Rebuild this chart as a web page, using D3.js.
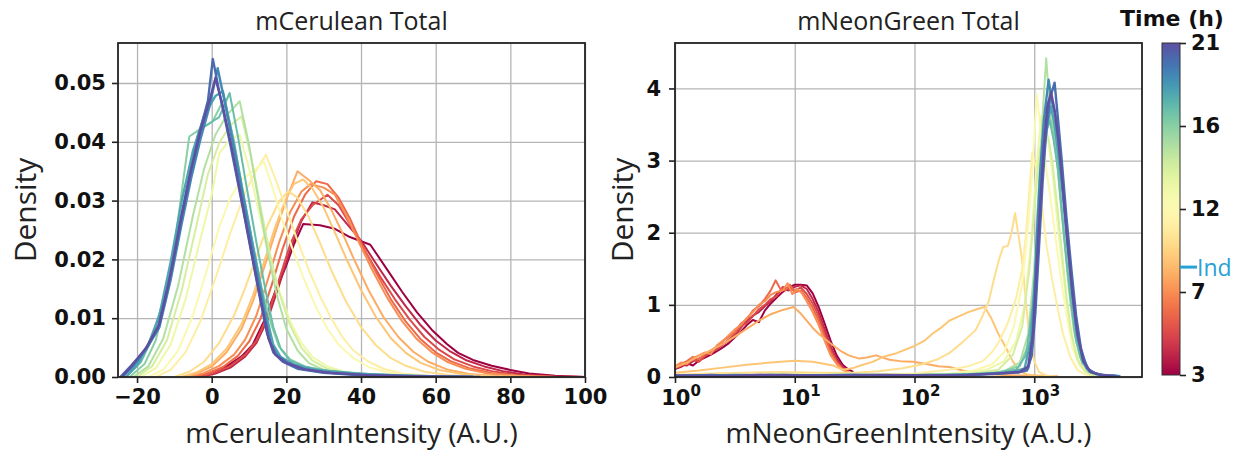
<!DOCTYPE html>
<html>
<head>
<meta charset="utf-8">
<script src="https://cdn.jsdelivr.net/npm/d3@7"></script>
<style>
  html, body { margin: 0; padding: 0; background: #ffffff; }
  svg { display: block; }
</style>
</head>
<body>
<svg id="chart" width="1245" height="452"></svg>
<script>
// ---------------------------------------------------------------
// Data
// ---------------------------------------------------------------
// Time points (hours) of each density curve
const hours = [3, 4, 5, 6, 7, 8, 9, 10, 11, 12, 13, 14, 15, 16, 17, 18, 19, 20, 21];
const timeTicks = [3, 7, 12, 16, 21];
const inductionTime = 8.5;

const ceruleanXTicks = [-20, 0, 20, 40, 60, 80, 100];
const ceruleanYTicks = [0, 0.01, 0.02, 0.03, 0.04, 0.05];
const neonXTicks = [1, 10, 100, 1000];
const neonXExponents = ["0", "1", "2", "3"];
const neonYTicks = [0, 1, 2, 3, 4];

// mCerulean intensity density, one curve per time point: [intensity, density]
const ceruleanCurves = [
  [[-4,0],[0,0.0008],[4,0.0018],[8,0.0035],[11,0.0055],[14,0.0095],[17,0.0145],[20,0.019],[22,0.0225],[24.5,0.026],[29,0.0258],[33,0.0252],[37,0.0238],[42.5,0.0225],[47.5,0.0178],[51,0.0145],[55,0.011],[59,0.008],[63,0.0056],[66,0.0041],[70,0.0029],[75,0.0019],[80,0.0012],[85,0.0006],[92,0.0002],[100,0]],
  [[-3,0],[1,0.0006],[5,0.0016],[9,0.0035],[12,0.0058],[15,0.0098],[18,0.0155],[21,0.0215],[24,0.0265],[27,0.0297],[30,0.0292],[33,0.0285],[36,0.0262],[40,0.0232],[44,0.0193],[48,0.0155],[52,0.012],[56,0.0088],[60,0.0062],[64,0.0043],[68,0.0029],[73,0.0018],[78,0.001],[84,0.0004],[92,0.0001],[100,0]],
  [[-3,0],[1,0.0008],[5,0.0019],[9,0.0038],[12,0.0062],[15,0.0105],[18,0.0165],[21,0.0225],[24,0.0268],[27,0.0292],[31,0.031],[34,0.0292],[37,0.026],[41,0.0215],[45,0.0172],[49,0.0133],[53,0.0098],[57,0.0068],[61,0.0046],[65,0.003],[70,0.0018],[75,0.001],[81,0.0004],[90,0.0001],[100,0]],
  [[-5,0],[-1,0.0006],[3,0.0017],[7,0.0036],[10,0.006],[13,0.0098],[16,0.0155],[19,0.0218],[22,0.0272],[25,0.031],[28,0.0333],[31,0.0328],[34,0.0305],[37,0.027],[40,0.0228],[44,0.0178],[48,0.0132],[52,0.0094],[56,0.0064],[60,0.0042],[64,0.0027],[69,0.0015],[75,0.0007],[82,0.0002],[92,0]],
  [[-6,0],[-2,0.0007],[2,0.0019],[6,0.0038],[9,0.0064],[12,0.0105],[15,0.0165],[18,0.0228],[21,0.028],[24,0.0315],[26.5,0.0328],[30,0.0322],[33,0.031],[36,0.0275],[39,0.0235],[43,0.0182],[47,0.0135],[51,0.0095],[55,0.0064],[59,0.0042],[63,0.0026],[68,0.0014],[74,0.0006],[82,0.0002],[92,0]],
  [[-8,0],[-4,0.0006],[0,0.0018],[4,0.0042],[8,0.0082],[11,0.0128],[14,0.0185],[17,0.0245],[20,0.0302],[23,0.035],[26,0.0335],[29,0.0318],[32,0.0285],[35,0.0245],[38,0.0202],[42,0.0148],[46,0.0102],[50,0.0068],[54,0.0043],[58,0.0026],[63,0.0013],[69,0.0005],[78,0.0001],[88,0]],
  [[-8,0],[-4,0.0008],[0,0.0022],[4,0.0048],[8,0.009],[11,0.0138],[14,0.0195],[17,0.0255],[20,0.0305],[22,0.0328],[24.5,0.0336],[27,0.032],[30,0.0288],[33,0.0246],[36,0.0202],[40,0.0148],[44,0.0102],[48,0.0066],[52,0.0041],[56,0.0024],[61,0.0012],[67,0.0005],[76,0.0001],[86,0]],
  [[-10,0],[-6,0.0009],[-2,0.0026],[2,0.0058],[6,0.0105],[9,0.0152],[12,0.0205],[15,0.0258],[18,0.0298],[20.5,0.0316],[23,0.0305],[26,0.0272],[29,0.0228],[32,0.0182],[36,0.0128],[40,0.0085],[44,0.0054],[48,0.0032],[52,0.0019],[57,0.0009],[64,0.0003],[74,0]],
  [[-15,0],[-11,0.0012],[-7,0.0042],[-3,0.0095],[1,0.0168],[5,0.0245],[9,0.0315],[12,0.0352],[14.5,0.0378],[17,0.0338],[20,0.0285],[23,0.0232],[26,0.0182],[29,0.0138],[32,0.01],[35,0.0068],[38,0.0045],[42,0.0026],[46,0.0014],[51,0.0006],[58,0.0002],[68,0]],
  [[-17,0],[-13,0.0012],[-9,0.0045],[-5,0.0105],[-1,0.0188],[2,0.0255],[5,0.0305],[8,0.0335],[11,0.035],[14,0.0366],[16.5,0.0318],[19,0.0265],[22,0.0212],[25,0.0162],[28,0.0118],[31,0.0082],[34,0.0055],[38,0.0032],[42,0.0017],[47,0.0008],[54,0.0002],[64,0]],
  [[-19,0],[-15,0.0015],[-11,0.0055],[-7,0.0132],[-3,0.0235],[0,0.031],[2,0.038],[5,0.0405],[7.5,0.0412],[10,0.0355],[12.5,0.0285],[15,0.0215],[18,0.0148],[21,0.0095],[24,0.0058],[27,0.0034],[31,0.0018],[36,0.0008],[43,0.0003],[52,0]],
  [[-20,0],[-16,0.0018],[-12,0.0062],[-8,0.0148],[-4,0.026],[-1,0.0345],[2,0.0398],[5,0.0428],[8,0.0443],[10.5,0.0375],[13,0.0292],[15.5,0.0212],[18,0.0145],[21,0.0088],[24,0.005],[27,0.0028],[31,0.0014],[37,0.0005],[46,0.0001],[56,0]],
  [[-21,0],[-17,0.0018],[-13,0.0065],[-9,0.0155],[-5,0.0275],[-2,0.0355],[1,0.0412],[4,0.0445],[7.5,0.0469],[10,0.0395],[12.5,0.0302],[15,0.0212],[17.5,0.0138],[20,0.0082],[23,0.0045],[26,0.0024],[30,0.0012],[36,0.0005],[45,0.0001],[56,0]],
  [[-22,0],[-18,0.0022],[-15,0.0062],[-12,0.014],[-9.5,0.0245],[-7.5,0.034],[-6,0.0409],[-3,0.0422],[0.2,0.0434],[3.4,0.0474],[6,0.04],[8.5,0.031],[11,0.0225],[13.5,0.0148],[16,0.0088],[18,0.0052],[21,0.003],[25,0.0018],[31,0.001],[40,0.0005],[52,0.0002],[66,0]],
  [[-23,0],[-19,0.0025],[-16,0.0065],[-13,0.013],[-10,0.0215],[-7,0.031],[-5,0.0375],[-3.4,0.042],[-0.5,0.0432],[2,0.0442],[4.8,0.0483],[7,0.041],[9.5,0.0318],[12,0.0228],[14.5,0.0145],[16.5,0.0085],[18.5,0.0048],[21,0.0028],[25,0.0017],[32,0.001],[42,0.0005],[55,0.0002],[70,0]],
  [[-23,0],[-20,0.002],[-17,0.0055],[-14,0.0105],[-11,0.0195],[-8,0.03],[-5,0.0385],[-2,0.0445],[1,0.0478],[3,0.0486],[6,0.0395],[9,0.0292],[12,0.0192],[14.5,0.0108],[16.5,0.0055],[18.5,0.0034],[22,0.0021],[28,0.0012],[38,0.0006],[52,0.0002],[70,0]],
  [[-24,0],[-21,0.0018],[-17.5,0.0048],[-14,0.0085],[-11,0.0165],[-8,0.0262],[-5.5,0.0338],[-3,0.0405],[-0.5,0.0462],[1.6,0.0525],[4,0.0452],[6.5,0.037],[9,0.0285],[11.5,0.0198],[14,0.0112],[15.8,0.0058],[17.5,0.0038],[20,0.0026],[24,0.0014],[30,0.0008],[40,0.0004],[55,0.0001],[70,0]],
  [[-24.5,0],[-21.5,0.002],[-18,0.0045],[-14.5,0.0082],[-11.5,0.016],[-8.5,0.0262],[-6,0.034],[-3.5,0.041],[-1,0.047],[0.3,0.0541],[2.5,0.047],[5,0.0395],[7.5,0.0315],[10,0.0232],[12.5,0.0148],[14.8,0.0075],[16.5,0.0042],[19,0.0026],[23,0.0014],[30,0.0007],[40,0.0003],[55,0.0001],[70,0]],
  [[-24,0],[-21,0.0022],[-17.5,0.005],[-14,0.009],[-11,0.0175],[-8,0.0275],[-5.5,0.0352],[-3,0.0418],[-0.5,0.0472],[1,0.0508],[3,0.046],[5.5,0.0385],[8,0.0302],[10.5,0.0218],[13,0.0135],[15.2,0.0066],[17,0.0038],[20,0.0024],[25,0.0013],[32,0.0007],[42,0.0003],[58,0.0001],[72,0]]
];

// mNeonGreen intensity density, one curve per time point: [log10(intensity), density]
const neonCurves = [
  [[0,0.11],[0.05,0.14],[0.1,0.19],[0.15,0.16],[0.2,0.23],[0.25,0.27],[0.3,0.31],[0.35,0.36],[0.4,0.41],[0.45,0.47],[0.5,0.55],[0.55,0.63],[0.6,0.72],[0.65,0.79],[0.7,0.76],[0.75,0.92],[0.8,1.02],[0.85,1.1],[0.9,1.18],[0.95,1.24],[1.0,1.28],[1.05,1.28],[1.1,1.27],[1.15,1.16],[1.2,0.97],[1.25,0.74],[1.3,0.5],[1.35,0.3],[1.4,0.17],[1.45,0.1],[1.49,0.07]],
  [[0,0.13],[0.05,0.17],[0.1,0.16],[0.15,0.22],[0.2,0.25],[0.25,0.3],[0.3,0.33],[0.35,0.4],[0.4,0.45],[0.45,0.52],[0.5,0.58],[0.55,0.68],[0.6,0.78],[0.65,0.85],[0.7,0.9],[0.75,0.98],[0.8,1.05],[0.85,1.15],[0.9,1.22],[0.95,1.2],[1.0,1.25],[1.05,1.27],[1.1,1.22],[1.15,1.08],[1.2,0.9],[1.25,0.66],[1.3,0.42],[1.35,0.25],[1.4,0.14],[1.45,0.09]],
  [[0,0.12],[0.05,0.15],[0.1,0.2],[0.15,0.24],[0.2,0.21],[0.25,0.29],[0.3,0.35],[0.35,0.38],[0.4,0.46],[0.45,0.5],[0.5,0.6],[0.55,0.7],[0.6,0.75],[0.65,0.84],[0.7,0.94],[0.75,1.0],[0.8,1.08],[0.85,1.12],[0.9,1.25],[0.95,1.22],[1.0,1.2],[1.05,1.24],[1.1,1.15],[1.15,1.02],[1.2,0.84],[1.25,0.6],[1.3,0.38],[1.35,0.22],[1.4,0.12],[1.45,0.08]],
  [[0,0.14],[0.05,0.18],[0.1,0.22],[0.15,0.28],[0.2,0.24],[0.25,0.32],[0.3,0.37],[0.35,0.42],[0.4,0.5],[0.45,0.56],[0.5,0.62],[0.55,0.74],[0.6,0.8],[0.65,0.92],[0.7,0.98],[0.75,1.08],[0.8,1.2],[0.84,1.34],[0.88,1.22],[0.92,1.2],[0.96,1.28],[1.0,1.17],[1.05,1.2],[1.1,1.1],[1.15,0.96],[1.2,0.78],[1.25,0.55],[1.3,0.34],[1.35,0.2],[1.4,0.11],[1.45,0.07]],
  [[0,0.15],[0.05,0.2],[0.1,0.18],[0.15,0.26],[0.2,0.3],[0.25,0.34],[0.3,0.32],[0.35,0.44],[0.4,0.5],[0.45,0.58],[0.5,0.66],[0.55,0.72],[0.6,0.82],[0.65,0.9],[0.7,1.0],[0.75,1.05],[0.8,1.14],[0.85,1.18],[0.9,1.2],[0.94,1.3],[0.98,1.15],[1.02,1.22],[1.06,1.16],[1.1,1.05],[1.15,0.9],[1.2,0.72],[1.25,0.5],[1.3,0.3],[1.35,0.18],[1.4,0.1],[1.45,0.06]],
  [[0,0.13],[0.1,0.2],[0.2,0.29],[0.3,0.37],[0.4,0.46],[0.5,0.56],[0.6,0.67],[0.7,0.78],[0.8,0.87],[0.9,0.93],[0.99,0.97],[1.05,0.88],[1.1,0.78],[1.15,0.68],[1.2,0.6],[1.265,0.51],[1.32,0.44],[1.375,0.37],[1.45,0.3],[1.54,0.255],[1.6,0.27],[1.68,0.3],[1.79,0.24],[1.88,0.22],[1.99,0.21],[2.1,0.18],[2.2,0.15],[2.29,0.14],[2.4,0.09],[2.55,0.05],[2.7,0.03],[2.9,0.02],[3.2,0.01]],
  [[0,0.06],[0.2,0.09],[0.4,0.13],[0.6,0.17],[0.8,0.2],[1.0,0.225],[1.15,0.21],[1.32,0.16],[1.4,0.1],[1.48,0.12],[1.55,0.16],[1.65,0.21],[1.74,0.28],[1.85,0.33],[2.0,0.43],[2.08,0.5],[2.15,0.6],[2.22,0.68],[2.29,0.78],[2.37,0.84],[2.45,0.9],[2.52,0.94],[2.585,0.97],[2.64,0.82],[2.7,0.6],[2.76,0.42],[2.82,0.22],[2.88,0.08],[2.95,0.03],[3.1,0.01]],
  [[0,0.03],[0.3,0.05],[0.6,0.06],[0.9,0.07],[1.2,0.06],[1.5,0.06],[1.7,0.08],[1.9,0.12],[2.05,0.17],[2.2,0.25],[2.29,0.33],[2.4,0.48],[2.51,0.65],[2.57,0.85],[2.62,1.05],[2.67,1.4],[2.71,1.65],[2.74,1.8],[2.78,1.82],[2.81,2.0],[2.84,2.27],[2.87,1.95],[2.9,1.6],[2.93,1.05],[2.96,0.55],[3.0,0.22],[3.04,0.07],[3.1,0.02],[3.2,0]],
  [[0,0.02],[0.5,0.03],[1.0,0.04],[1.5,0.03],[2.0,0.05],[2.29,0.1],[2.45,0.15],[2.57,0.22],[2.65,0.35],[2.71,0.5],[2.78,0.75],[2.85,1.1],[2.9,1.5],[2.93,1.95],[2.96,2.6],[2.985,3.12],[3.02,2.85],[3.06,2.45],[3.1,1.85],[3.15,1.35],[3.19,1.0],[3.24,0.6],[3.3,0.28],[3.36,0.1],[3.42,0.04],[3.5,0.01]],
  [[0,0.02],[1.0,0.03],[2.0,0.03],[2.3,0.05],[2.5,0.09],[2.65,0.18],[2.75,0.35],[2.83,0.7],[2.9,1.3],[2.95,2.1],[2.99,3.0],[3.02,3.93],[3.05,3.5],[3.09,3.0],[3.13,2.55],[3.18,1.9],[3.22,1.4],[3.27,0.85],[3.32,0.4],[3.38,0.15],[3.45,0.05],[3.55,0.01]],
  [[0,0.02],[1,0.02],[2,0.03],[2.4,0.05],[2.6,0.1],[2.75,0.22],[2.85,0.5],[2.92,1.0],[2.97,1.8],[3.01,2.7],[3.04,3.3],[3.06,3.62],[3.09,3.4],[3.12,3.25],[3.16,2.7],[3.2,2.05],[3.24,1.45],[3.28,0.9],[3.33,0.45],[3.38,0.18],[3.45,0.05],[3.55,0.01]],
  [[0,0.02],[1,0.03],[2,0.03],[2.5,0.05],[2.7,0.1],[2.82,0.3],[2.9,0.7],[2.96,1.5],[3.0,2.3],[3.03,2.9],[3.06,3.3],[3.09,3.45],[3.12,3.3],[3.15,3.0],[3.19,2.4],[3.23,1.75],[3.27,1.1],[3.31,0.6],[3.36,0.25],[3.42,0.08],[3.5,0.02]],
  [[0,0.02],[1,0.02],[2,0.03],[2.5,0.04],[2.75,0.08],[2.88,0.2],[2.95,0.6],[3.0,1.5],[3.03,2.4],[3.06,3.3],[3.08,3.9],[3.1,4.42],[3.12,3.95],[3.15,3.6],[3.18,3.2],[3.21,2.6],[3.25,1.9],[3.29,1.2],[3.33,0.65],[3.38,0.28],[3.44,0.09],[3.52,0.03],[3.6,0.01]],
  [[0,0.02],[0.8,0.03],[1.6,0.02],[2.3,0.03],[2.7,0.06],[2.88,0.15],[2.95,0.45],[3.0,1.3],[3.04,2.3],[3.07,3.1],[3.1,3.85],[3.13,3.6],[3.16,3.45],[3.19,3.05],[3.22,2.5],[3.26,1.8],[3.3,1.15],[3.34,0.6],[3.39,0.25],[3.45,0.08],[3.55,0.02]],
  [[0,0.02],[0.7,0.02],[1.4,0.03],[2.1,0.02],[2.6,0.04],[2.85,0.1],[2.93,0.3],[2.99,1.0],[3.03,2.0],[3.07,2.9],[3.1,3.4],[3.13,3.55],[3.16,3.3],[3.2,2.85],[3.23,2.3],[3.27,1.6],[3.31,1.0],[3.35,0.5],[3.4,0.2],[3.47,0.06],[3.58,0.02]],
  [[0,0.01],[0.5,0.03],[1.0,0.02],[1.5,0.03],[2.0,0.02],[2.5,0.04],[2.8,0.06],[2.92,0.12],[2.97,0.5],[3.01,1.4],[3.04,2.3],[3.08,3.1],[3.11,3.5],[3.14,3.75],[3.17,3.5],[3.2,3.1],[3.24,2.5],[3.28,1.8],[3.32,1.1],[3.36,0.55],[3.41,0.2],[3.48,0.06],[3.6,0.02],[3.7,0.01]],
  [[0,0.02],[0.4,0.01],[0.8,0.03],[1.2,0.02],[1.6,0.03],[2.0,0.02],[2.4,0.03],[2.7,0.05],[2.88,0.07],[2.95,0.12],[2.98,0.4],[3.0,1.1],[3.02,1.9],[3.05,2.85],[3.08,3.55],[3.12,4.12],[3.15,3.8],[3.18,3.6],[3.21,3.2],[3.24,2.6],[3.27,2.0],[3.31,1.3],[3.35,0.7],[3.4,0.3],[3.46,0.08],[3.55,0.03],[3.65,0.02],[3.72,0.01]],
  [[0,0.01],[0.3,0.03],[0.6,0.01],[0.9,0.03],[1.2,0.02],[1.5,0.03],[1.8,0.01],[2.1,0.03],[2.4,0.02],[2.65,0.04],[2.85,0.06],[2.94,0.09],[2.98,0.3],[3.01,0.9],[3.04,1.8],[3.07,2.7],[3.1,3.4],[3.13,3.85],[3.17,4.08],[3.2,3.55],[3.23,3.0],[3.27,2.2],[3.31,1.5],[3.35,0.85],[3.39,0.4],[3.44,0.12],[3.52,0.04],[3.62,0.02],[3.7,0.01]],
  [[0,0.02],[0.35,0.01],[0.7,0.03],[1.05,0.02],[1.4,0.02],[1.75,0.03],[2.1,0.02],[2.45,0.03],[2.7,0.05],[2.88,0.07],[2.95,0.15],[2.99,0.6],[3.02,1.5],[3.05,2.4],[3.08,3.2],[3.11,3.75],[3.14,3.95],[3.17,3.7],[3.2,3.3],[3.24,2.6],[3.28,1.85],[3.32,1.15],[3.36,0.6],[3.41,0.22],[3.47,0.07],[3.58,0.02],[3.68,0.01]]
];

// ---------------------------------------------------------------
// Layout and scales
// ---------------------------------------------------------------
const svg = d3.select("#chart");
const panelTop = 43, panelBottom = 377;
const cer = { left: 118, right: 585 };
const neo = { left: 675, right: 1142 };
const bar = { left: 1162, right: 1180, top: 43, bottom: 375 };

const xCer = d3.scaleLinear().domain([-25.1, 100]).range([cer.left, cer.right]);
const yCer = d3.scaleLinear().domain([0, 0.0568]).range([panelBottom, panelTop]);
const xNeo = d3.scaleLog().domain([1, Math.pow(10, 3.9)]).range([neo.left, neo.right]);
const yNeo = d3.scaleLinear().domain([0, 4.63]).range([panelBottom, panelTop]);

// Colour bar: the labelled times sit at evenly spaced positions
const barPos = d3.scaleLinear()
  .domain(timeTicks)
  .range(timeTicks.map((d, i) => bar.bottom - i * (bar.bottom - bar.top) / (timeTicks.length - 1)));
const barFrac = d3.scaleLinear().domain(timeTicks).range(timeTicks.map((d, i) => i / (timeTicks.length - 1)));
const timeColor = h => d3.interpolateSpectral(barFrac(h));

const tickFont = '"DejaVu Sans", sans-serif';
const labelFont = '"Open Sans", "DejaVu Sans", sans-serif';

// ---------------------------------------------------------------
// Panel helper
// ---------------------------------------------------------------
function drawPanel(opts) {
  const { x, y, left, right, id } = opts;
  const g = svg.append("g");
  const w = right - left, h = panelBottom - panelTop;

  // grid
  g.append("g")
    .attr("transform", `translate(0,${panelBottom})`)
    .call(d3.axisBottom(x).tickValues(opts.xTicks).tickSize(-h).tickFormat(""))
    .call(s => s.select(".domain").remove())
    .call(s => s.selectAll("text").remove())
    .call(s => s.selectAll("line").attr("stroke", "#b5b5b5").attr("stroke-width", 1.3));
  g.append("g")
    .attr("transform", `translate(${left},0)`)
    .call(d3.axisLeft(y).tickValues(opts.yTicks).tickSize(-w).tickFormat(""))
    .call(s => s.select(".domain").remove())
    .call(s => s.selectAll("text").remove())
    .call(s => s.selectAll("line").attr("stroke", "#b5b5b5").attr("stroke-width", 1.3));

  // curves
  svg.append("clipPath").attr("id", id)
    .append("rect").attr("x", left).attr("y", panelTop).attr("width", w).attr("height", h);
  const line = d3.line().x(d => x(opts.xValue(d[0]))).y(d => y(d[1]));
  g.append("g").attr("clip-path", `url(#${id})`)
    .selectAll("path")
    .data(opts.curves)
    .join("path")
    .attr("d", line)
    .attr("fill", "none")
    .attr("stroke", (d, i) => timeColor(hours[i]))
    .attr("stroke-width", (d, i) => hours[i] >= 18 ? 2.4 : 2)
    .attr("stroke-linejoin", "round");

  // axes
  const xAxis = g.append("g")
    .attr("transform", `translate(0,${panelBottom})`)
    .call(d3.axisBottom(x).tickValues(opts.xTicks).tickSize(6).tickPadding(6).tickFormat(opts.xFormat || ""))
    .call(s => s.select(".domain").remove())
    .call(s => s.selectAll("line").attr("stroke", "#222").attr("stroke-width", 1.6));
  if (opts.xFormat) {
    xAxis.selectAll("text")
      .attr("font-family", tickFont).attr("font-weight", "bold").attr("font-size", 21).attr("fill", "#111");
  } else {
    xAxis.selectAll("text").remove();
  }

  const yAxis = g.append("g")
    .attr("transform", `translate(${left},0)`)
    .call(d3.axisLeft(y).tickValues(opts.yTicks).tickSize(6).tickPadding(opts.yPad).tickFormat(opts.yFormat))
    .call(s => s.select(".domain").remove())
    .call(s => s.selectAll("line").attr("stroke", "#222").attr("stroke-width", 1.6));
  yAxis.selectAll("text")
    .attr("font-family", tickFont).attr("font-weight", "bold").attr("font-size", 21).attr("fill", "#111");

  // frame
  g.append("rect")
    .attr("x", left).attr("y", panelTop).attr("width", w).attr("height", h)
    .attr("fill", "none").attr("stroke", "#222").attr("stroke-width", 1.8);

  // title and axis labels
  const cx = (left + right) / 2;
  g.append("text").attr("x", cx).attr("y", 30)
    .attr("text-anchor", "middle").attr("font-family", labelFont).attr("font-size", 25).attr("fill", "#222")
    .text(opts.title);
  g.append("text").attr("x", cx).attr("y", 443)
    .attr("text-anchor", "middle").attr("font-family", labelFont).attr("font-size", 28).attr("fill", "#222")
    .text(opts.xLabel);
  g.append("text")
    .attr("transform", `translate(${opts.yLabelX},${(panelTop + panelBottom) / 2}) rotate(-90)`)
    .attr("text-anchor", "middle").attr("dominant-baseline", "central")
    .attr("font-family", labelFont).attr("font-size", 30).attr("fill", "#222")
    .text("Density");
  return g;
}

drawPanel({
  id: "clip-cer", x: xCer, y: yCer, left: cer.left, right: cer.right,
  curves: ceruleanCurves, xValue: v => v,
  xTicks: ceruleanXTicks, yTicks: ceruleanYTicks, yPad: 6,
  xFormat: d => d < 0 ? "\u2212" + Math.abs(d) : d, yFormat: d3.format(".2f"),
  title: "mCerulean Total", xLabel: "mCeruleanIntensity (A.U.)", yLabelX: 24
});

const neoG = drawPanel({
  id: "clip-neo", x: xNeo, y: yNeo, left: neo.left, right: neo.right,
  curves: neonCurves, xValue: e => Math.pow(10, e),
  xTicks: neonXTicks, yTicks: neonYTicks, yPad: 8,
  xFormat: null, yFormat: d3.format("d"),
  title: "mNeonGreen Total", xLabel: "mNeonGreenIntensity (A.U.)", yLabelX: 621
});

// power-of-ten labels for the log axis
const powLabels = neoG.append("g").selectAll("text")
  .data(neonXTicks)
  .join("text")
  .attr("x", d => xNeo(d) + 6)
  .attr("y", 405)
  .attr("text-anchor", "middle")
  .attr("font-family", tickFont).attr("font-weight", "bold").attr("font-size", 21).attr("fill", "#111");
powLabels.append("tspan").text("10");
powLabels.append("tspan").attr("dy", -9).attr("font-size", 15).text((d, i) => neonXExponents[i]);

// ---------------------------------------------------------------
// Colour bar
// ---------------------------------------------------------------
const grad = svg.append("defs").append("linearGradient")
  .attr("id", "time-grad").attr("x1", 0).attr("y1", 1).attr("x2", 0).attr("y2", 0);
d3.range(0, 1.0001, 0.02).forEach(t => {
  grad.append("stop").attr("offset", t).attr("stop-color", d3.interpolateSpectral(t));
});
svg.append("rect")
  .attr("x", bar.left).attr("y", bar.top)
  .attr("width", bar.right - bar.left).attr("height", bar.bottom - bar.top)
  .attr("fill", "url(#time-grad)").attr("stroke", "#333").attr("stroke-width", 1);

const barAxis = svg.append("g")
  .attr("transform", `translate(${bar.right},0)`)
  .call(d3.axisRight(barPos).tickValues(timeTicks).tickSize(6).tickPadding(5).tickFormat(d3.format("d")))
  .call(s => s.select(".domain").remove())
  .call(s => s.selectAll("line").attr("stroke", "#222").attr("stroke-width", 1.6));
barAxis.selectAll("text")
  .attr("font-family", tickFont).attr("font-weight", "bold").attr("font-size", 21).attr("fill", "#111");

// induction marker
svg.append("line")
  .attr("x1", bar.right).attr("x2", bar.right + 17)
  .attr("y1", barPos(inductionTime)).attr("y2", barPos(inductionTime))
  .attr("stroke", "#2aa1d5").attr("stroke-width", 3);
svg.append("text")
  .attr("x", bar.right + 17).attr("y", barPos(inductionTime))
  .attr("dominant-baseline", "central")
  .attr("font-family", labelFont).attr("font-size", 23).attr("fill", "#2aa1d5")
  .text("Ind");

svg.append("text")
  .attr("x", 1172).attr("y", 26)
  .attr("text-anchor", "middle")
  .attr("font-family", tickFont).attr("font-weight", "bold").attr("font-size", 22).attr("fill", "#111")
  .text("Time (h)");
</script>
</body>
</html>
